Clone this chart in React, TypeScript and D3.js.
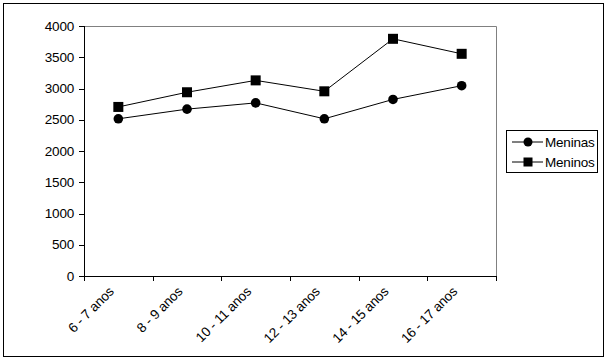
import React from "react";
import * as d3 from "d3";

const categories = ["6 - 7 anos", "8 - 9 anos", "10 - 11 anos", "12 - 13 anos", "14 - 15 anos", "16 - 17 anos"];
const meninas = [2515, 2670, 2770, 2515, 2825, 3045];
const meninos = [2705, 2940, 3130, 2955, 3795, 3555];
const yTicks = [0, 500, 1000, 1500, 2000, 2500, 3000, 3500, 4000];
const seriesNames = ["Meninas", "Meninos"];

const W = 608;
const H = 360;
const plot = { left: 84, right: 496, top: 26, bottom: 276 };
const font = "'Liberation Sans', Arial, sans-serif";
const fs = 13.5;
const ls = -0.2;

export default function App() {
  const x = d3.scaleBand<string>().domain(categories).range([plot.left, plot.right]);
  const y = d3.scaleLinear().domain([0, 4000]).range([plot.bottom, plot.top]);
  const line = d3
    .line<number>()
    .x((_, i) => (x(categories[i]) as number) + x.bandwidth() / 2)
    .y((d) => y(d));
  const cx = (i: number) => (x(categories[i]) as number) + x.bandwidth() / 2;
  const boundaries = categories.map((c) => x(c) as number).concat([plot.right]);

  return (
    <svg width={W} height={H} style={{ position: "absolute", left: 0, top: 0 }} fontFamily={font}>
      <rect x={0} y={0} width={W} height={H} fill="#fff" />
      <rect x={3.5} y={3.5} width={600} height={353} fill="#fff" stroke="#000" strokeWidth={1} />
      {/* plot area frame */}
      <path
        d={`M${plot.left},${plot.top + 0.5}H${plot.right + 0.5}V${plot.bottom}`}
        fill="none"
        stroke="#808080"
        strokeWidth={1}
      />
      {/* y axis */}
      <line x1={plot.left + 0.5} x2={plot.left + 0.5} y1={plot.top} y2={plot.bottom + 0.5} stroke="#000" />
      {yTicks.map((t) => (
        <g key={t}>
          <line x1={plot.left - 5} x2={plot.left} y1={Math.round(y(t)) + 0.5} y2={Math.round(y(t)) + 0.5} stroke="#000" />
          <text x={plot.left - 10} y={y(t)} dy="0.35em" textAnchor="end" fontSize={fs} letterSpacing={ls}>
            {t}
          </text>
        </g>
      ))}
      {/* x axis */}
      <line x1={plot.left} x2={plot.right + 0.5} y1={plot.bottom + 0.5} y2={plot.bottom + 0.5} stroke="#000" />
      {boundaries.map((b, i) => (
        <line key={i} x1={Math.round(b) + 0.5} x2={Math.round(b) + 0.5} y1={plot.bottom} y2={plot.bottom + 5} stroke="#000" />
      ))}
      {categories.map((c, i) => (
        <text
          key={c}
          transform={`translate(${cx(i) - 7},${plot.bottom + 13}) rotate(-45)`}
          textAnchor="end"
          dy="0.35em"
          fontSize={fs}
          letterSpacing={ls}
        >
          {c}
        </text>
      ))}
      {/* series */}
      <path d={line(meninas) || ""} fill="none" stroke="#000" strokeWidth={1} />
      <path d={line(meninos) || ""} fill="none" stroke="#000" strokeWidth={1} />
      {meninas.map((v, i) => (
        <circle key={i} cx={cx(i)} cy={y(v)} r={4.8} fill="#000" />
      ))}
      {meninos.map((v, i) => (
        <rect key={i} x={cx(i) - 5} y={y(v) - 5} width={10} height={10} fill="#000" />
      ))}
      {/* legend */}
      <rect x={506.5} y={130.5} width={91} height={42} fill="#fff" stroke="#000" />
      {seriesNames.map((n, i) => {
        const ly = 142 + i * 20;
        return (
          <g key={n}>
            <line x1={512} x2={543} y1={ly} y2={ly} stroke="#000" />
            {i === 0 ? (
              <circle cx={528} cy={ly} r={4.5} fill="#000" />
            ) : (
              <rect x={523.5} y={ly - 4.5} width={9} height={9} fill="#000" />
            )}
            <text x={545} y={ly} dy="0.35em" fontSize={fs} letterSpacing={ls}>
              {n}
            </text>
          </g>
        );
      })}
    </svg>
  );
}
